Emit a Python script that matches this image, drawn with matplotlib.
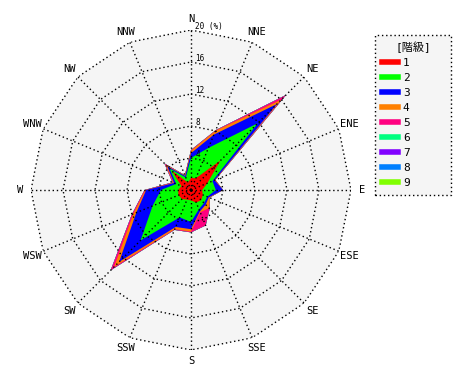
import numpy as np
import matplotlib
matplotlib.use("Agg")
import matplotlib.pyplot as plt
from matplotlib.lines import Line2D

plt.rcParams['font.family'] = ['DejaVu Sans Mono', 'Noto Sans CJK JP']

# 16 wind directions, clockwise from north
directions = ["N", "NNE", "NE", "ENE", "E", "ESE", "SE", "SSE",
              "S", "SSW", "SW", "WSW", "W", "WNW", "NW", "NNW"]

# frequency (%) of each class per direction (read off the chart, not cumulative)
class1 = [1.5, 1.6, 5.2, 2.2, 1.4, 1.6, 1.8, 1.7, 1.3, 1.3, 1.6, 1.7, 1.6, 1.3, 3.4, 1.0]
class2 = [2.5, 4.1, 6.6, 0.7, 1.7, 0.6, 0.5, 0.9, 2.7, 2.4, 7.3, 3.5, 2.15, 0.7, 0.4, 0.7]
class3 = [0.6, 1.8, 3.4, 0.3, 0.9, 0.2, 0.3, 0.3, 0.9, 1.3, 3.8, 2.2, 1.85, 0.3, 0.4, 0.2]
class4 = [0.3, 0.5, 0.8, 0.1, 0.0, 0.1, 0.6, 0.1, 0.3, 0.3, 0.9, 0.4, 0.1, 0.1, 0.3, 0.1]
class5 = [0.1, 0.1, 0.8, 0.0, 0.0, 0.0, 0.1, 1.8, 0.1, 0.1, 0.6, 0.2, 0.1, 0.1, 0.2, 0.0]
class6 = [0.0] * 16
class7 = [0.0] * 16
class8 = [0.0] * 16
class9 = [0.0] * 16

class_labels = ["1", "2", "3", "4", "5", "6", "7", "8", "9"]
class_colors = ["#ff0000", "#00ff00", "#0000ff", "#ff8000", "#ff0080",
                "#00ff80", "#8000ff", "#0080ff", "#80ff00"]
rings = [4, 8, 12, 16, 20]

classes = np.array([class1, class2, class3, class4, class5,
                    class6, class7, class8, class9])
cum = np.cumsum(classes, axis=0)

theta = np.deg2rad(np.arange(16) * 22.5)
theta_c = np.append(theta, theta[0])

fig = plt.figure(figsize=(4.7, 3.8), dpi=100)
ax = fig.add_axes([31 / 470, 30 / 380, 320 / 470, 320 / 380], projection='polar')
ax.set_theta_zero_location('N')
ax.set_theta_direction(-1)
ax.set_ylim(0, 20)
ax.grid(False)
ax.set_xticks([])
ax.set_yticks([])
ax.spines['polar'].set_visible(False)
ax.patch.set_alpha(0)

# background 16-gon
ax.fill(theta_c, [20] * 17, color='#f5f5f5', lw=0, zorder=0)

# stacked classes, outermost first
for k in range(8, -1, -1):
    r = np.append(cum[k], cum[k][0])
    ax.fill(theta_c, r, color=class_colors[k], lw=0, zorder=1 + (8 - k) * 0.01)

# polygon grid
dot = (0, (1, 2))
for rr in rings:
    ax.plot(theta_c, [rr] * 17, color='black', ls=dot, lw=1, zorder=5)
for t in theta:
    ax.plot([t, t], [0, 20], color='black', ls=dot, lw=1, zorder=5)

# direction labels
for t, name in zip(theta, directions):
    ax.text(t, 21.4, name, ha='center', va='center', fontsize=7.5)

# ring labels
for rr in rings:
    txt = "20 (%)" if rr == 20 else str(rr)
    ax.annotate(txt, xy=(0, rr), xytext=(3, 2.5), textcoords='offset points',
                ha='left', va='center', fontsize=5.5, zorder=6)

handles = [Line2D([], [], color=c, lw=4) for c in class_colors]
leg = fig.legend(handles, class_labels, title="[階級]", loc='upper left',
                 bbox_to_anchor=(375 / 470, 1 - 35 / 380, 76 / 470, 0),
                 mode='expand', fontsize=8, title_fontsize=8,
                 frameon=True, fancybox=False,
                 edgecolor='black', facecolor='#f5f5f5', framealpha=1,
                 handlelength=1.5, handletextpad=0.4, labelspacing=0.45,
                 borderpad=0.6, borderaxespad=0)
leg.get_frame().set_linestyle(dot)
leg.get_frame().set_linewidth(1)

fig.savefig("out.png", dpi=100)
